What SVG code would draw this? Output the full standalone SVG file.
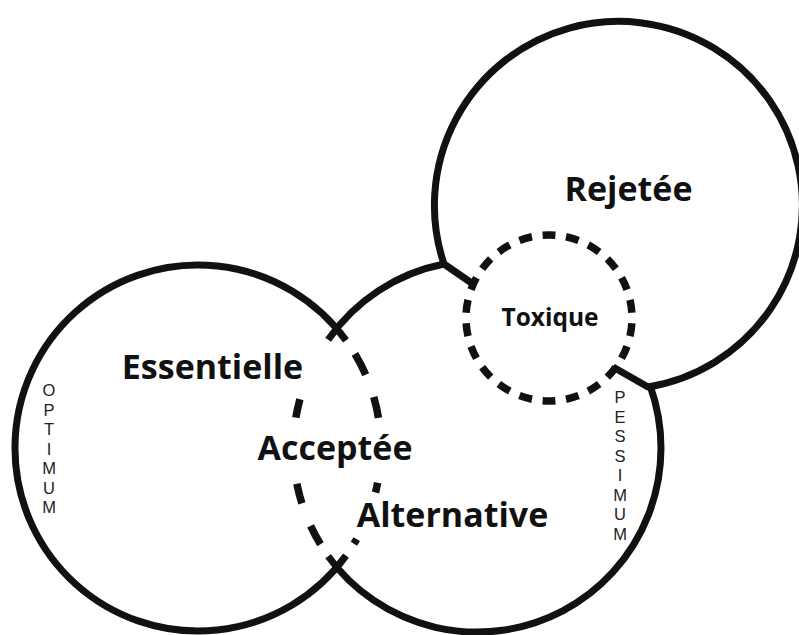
<svg xmlns="http://www.w3.org/2000/svg" width="799" height="635" viewBox="0 0 799 635">
<style>
.solid{fill:none;stroke:#111;stroke-width:7;stroke-linejoin:round}
.dash{fill:none;stroke:#111;stroke-width:7.5}
.lbl{font-family:"Open Sans","Noto Sans","Liberation Sans",sans-serif;font-weight:bold;fill:#111;text-anchor:middle}
.side{font-family:"Liberation Sans",Arial,sans-serif;font-size:16.5px;fill:#222;text-anchor:middle}
</style>
<rect width="799" height="635" fill="#fff"/>
<g id="connectors">
<path class="solid" d="M473,284 L444,264 A184,184 0 1 1 648,387 L613,367"/>
<path class="solid" d="M444,264 A184,184 0 0 0 328.1,339.8"/>
<path class="solid" d="M328.1,556.2 A184,184 0 0 0 650.3,386.3"/>
<path class="solid" d="M346,340.4 A183,183 0 1 0 346,555.6"/>
<path class="dash" stroke-dasharray="0 80 18.9 66.5 20.2 24.1 20.8 300" d="M337,329 A184,184 0 0 0 337,567"/>
<path class="dash" stroke-dasharray="0 30.7 23.6 23.6 21.4 65.2 9.9 50.4 5.5 300" d="M337,329 A183,183 0 0 1 337,567"/>
</g>
<g id="toxique">
<circle cx="549" cy="318" r="83" fill="none" stroke="#111" stroke-width="7.5" pathLength="88" stroke-dasharray="2.2 1.8" stroke-dashoffset="3.1"/>
<text class="lbl" x="550" y="326" font-size="24.5">Toxique</text>
</g>
<g id="rejetee">
<text class="lbl" x="628.5" y="201" font-size="34">Rejetée</text>
</g>
<g id="essentielle">
<text class="lbl" x="212.5" y="379" font-size="34">Essentielle</text>
</g>
<g id="acceptee">
<text class="lbl" x="335" y="460" font-size="34">Acceptée</text>
</g>
<g id="alternative">
<text class="lbl" x="452.5" y="527" font-size="34">Alternative</text>
</g>
<g id="optimum">
<text class="side" x="49" y="396">O</text>
<text class="side" x="49" y="415.5">P</text>
<text class="side" x="49" y="435">T</text>
<text class="side" x="49" y="454.5">I</text>
<text class="side" x="49" y="474">M</text>
<text class="side" x="49" y="493.5">U</text>
<text class="side" x="49" y="513">M</text>
</g>
<g id="pessimum">
<text class="side" x="620" y="403">P</text>
<text class="side" x="620" y="422.5">E</text>
<text class="side" x="620" y="442">S</text>
<text class="side" x="620" y="461.5">S</text>
<text class="side" x="620" y="481">I</text>
<text class="side" x="620" y="500.5">M</text>
<text class="side" x="620" y="520">U</text>
<text class="side" x="620" y="539.5">M</text>
</g>
</svg>
